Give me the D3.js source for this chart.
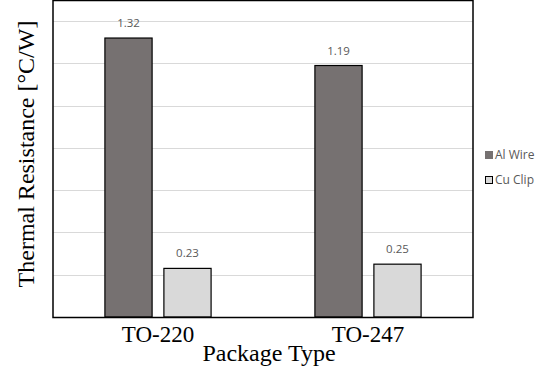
<!DOCTYPE html>
<html>
<head>
<meta charset="utf-8">
<script src="https://cdn.jsdelivr.net/npm/d3@7"></script>
<style>
  html, body { margin: 0; padding: 0; background: #fff; }
  svg { display: block; }
</style>
</head>
<body>
<svg id="chart" width="549" height="383"></svg>
<script>
const categories = ["TO-220", "TO-247"];
const seriesNames = ["Al Wire", "Cu Clip"];
const alWire = [1.32, 1.19];
const cuClip = [0.23, 0.25];
const yTicks = [0, 0.2, 0.4, 0.6, 0.8, 1.0, 1.2, 1.4];
const seriesColors = ["#767171", "#d9d9d9"];

const svg = d3.select("#chart");
const W = 549, H = 383;
const m = { left: 53, right: 76, top: 0, bottom: 66 };
const x0 = m.left, x1 = W - m.right, y0 = H - m.bottom, y1 = m.top;

const x = d3.scaleBand().domain(categories).range([x0, x1]);
const xs = d3.scaleBand().domain(seriesNames).range([0, x.bandwidth()]).paddingInner(0.2).paddingOuter(0.88);
const y = d3.scaleLinear().domain([0, 1.5]).range([y0, y1]);

// gridlines
svg.append("g").selectAll("line").data(yTicks.filter(t => t > 0)).join("line")
  .attr("x1", x0).attr("x2", x1)
  .attr("y1", d => Math.round(y(d)) + 0.5).attr("y2", d => Math.round(y(d)) + 0.5)
  .attr("stroke", "#d9d9d9").attr("stroke-width", 1);

const data = categories.map((c, i) => ({ cat: c, vals: [alWire[i], cuClip[i]] }));

const g = svg.append("g").selectAll("g").data(data).join("g")
  .attr("transform", d => `translate(${x(d.cat)},0)`);

g.selectAll("rect").data(d => d.vals.map((v, j) => ({ v, s: seriesNames[j], j }))).join("rect")
  .attr("x", d => xs(d.s))
  .attr("y", d => y(d.v))
  .attr("width", xs.bandwidth())
  .attr("height", d => y0 - y(d.v))
  .attr("fill", d => seriesColors[d.j])
  .attr("stroke", "#000").attr("stroke-width", 1.2);

g.selectAll("text").data(d => d.vals.map((v, j) => ({ v, s: seriesNames[j], j }))).join("text")
  .attr("x", d => xs(d.s) + xs.bandwidth() / 2)
  .attr("y", d => y(d.v) - 11)
  .attr("text-anchor", "middle")
  .attr("font-family", "'Open Sans', 'Noto Sans', sans-serif")
  .attr("font-size", 11.5)
  .attr("fill", "#595959")
  .text(d => d.v.toFixed(2));

// frame
svg.append("rect").attr("x", x0).attr("y", y1 + 0.5).attr("width", x1 - x0).attr("height", y0 - y1)
  .attr("fill", "none").attr("stroke", "#000").attr("stroke-width", 1.5);

// x axis labels
const xAxis = d3.axisBottom(x).tickSize(0).tickPadding(0);
const xa = svg.append("g").attr("transform", `translate(0,${y0})`).call(xAxis);
xa.select(".domain").remove();
xa.selectAll("text")
  .attr("font-family", "'Liberation Serif', 'Times New Roman', serif")
  .attr("font-size", 23).attr("fill", "#000")
  .attr("dy", null).attr("y", 25);

// axis titles
svg.append("text").attr("x", 269).attr("y", 361).attr("text-anchor", "middle")
  .attr("font-family", "'Liberation Serif', 'Times New Roman', serif")
  .attr("font-size", 24).attr("fill", "#000").text("Package Type");

svg.append("text").attr("transform", `translate(34,154) rotate(-90)`).attr("text-anchor", "middle")
  .attr("font-family", "'Liberation Serif', 'Times New Roman', serif")
  .attr("font-size", 24).attr("fill", "#000").text("Thermal Resistance [°C/W]");

// legend
const lg = svg.append("g").selectAll("g").data(seriesNames).join("g")
  .attr("transform", (d, i) => `translate(485,${155 + i * 25})`);
lg.append("rect").attr("x", 0.5).attr("y", -3.5).attr("width", 7).attr("height", 7)
  .attr("fill", (d, i) => seriesColors[i]).attr("stroke", (d, i) => i === 0 ? seriesColors[0] : "#000").attr("stroke-width", 1);
lg.append("text").attr("x", 10).attr("y", 4)
  .attr("font-family", "'Open Sans', 'Noto Sans', sans-serif")
  .attr("font-size", 12).attr("fill", "#595959").text(d => d);
</script>
</body>
</html>
